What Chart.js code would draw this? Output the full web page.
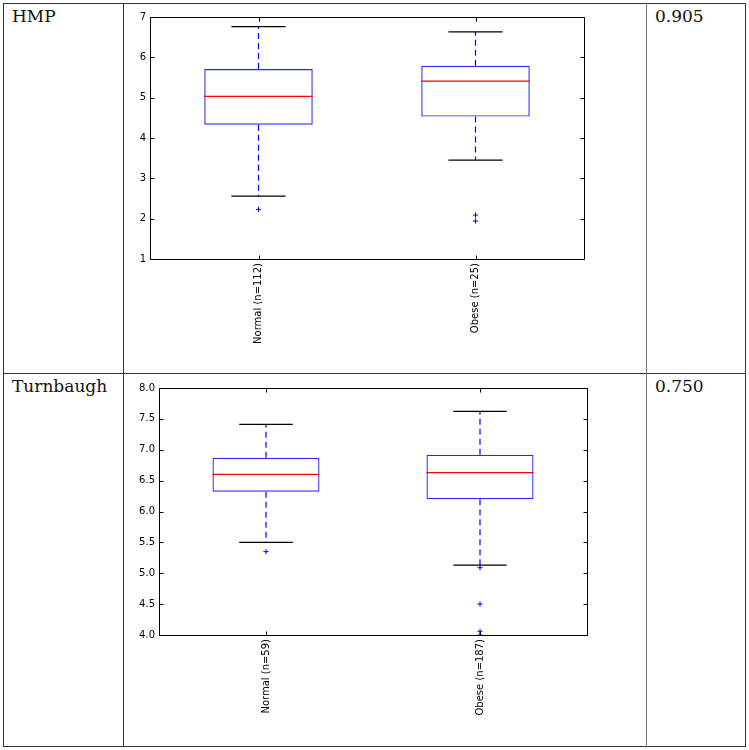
<!DOCTYPE html>
<html>
<head>
<meta charset="utf-8">
<script src="https://cdn.jsdelivr.net/npm/chart.js@4/dist/chart.umd.min.js"></script>
<style>
  html, body { margin: 0; padding: 0; background: #fff; }
  #page { position: relative; width: 749px; height: 750px; overflow: hidden; }
  .ln { position: absolute; background: #333; }
  .cell { position: absolute; font-family: "DejaVu Serif", "Liberation Serif", serif; font-size: 17px; line-height: 18px; color: #111; }
  .cv { position: absolute; }
</style>
</head>
<body>
<div id="page">
  <div class="ln" style="left:3px;top:3px;width:743px;height:1px;"></div>
  <div class="ln" style="left:3px;top:746px;width:743px;height:1px;"></div>
  <div class="ln" style="left:3px;top:3px;width:1px;height:744px;"></div>
  <div class="ln" style="left:745px;top:3px;width:1px;height:744px;"></div>
  <div class="ln" style="left:3px;top:373px;width:743px;height:1px;"></div>
  <div class="ln" style="left:123px;top:3px;width:1px;height:744px;"></div>
  <div class="ln" style="left:646px;top:3px;width:1px;height:744px;background:#777;"></div>

  <div class="cell" id="lab1" style="left:12px;top:7px;"></div>
  <div class="cell" id="val1" style="left:655px;top:7px;"></div>
  <div class="cell" id="lab2" style="left:12px;top:377px;"></div>
  <div class="cell" id="val2" style="left:655px;top:377px;"></div>

  <div class="cv" style="left:124px;top:4px;width:521px;height:369px;"><canvas id="c1" width="521" height="369"></canvas></div>
  <div class="cv" style="left:124px;top:374px;width:521px;height:371px;"><canvas id="c2" width="521" height="371"></canvas></div>
</div>
<script>
// ---------- Data ----------
const rowLabels = ['HMP', 'Turnbaugh'];
const rowValues = ['0.905', '0.750'];

const hmpCategories = ['Normal (n=112)', 'Obese (n=25)'];
const hmpWhiskerLow = [2.56, 3.45];
const hmpQ1 = [4.33, 4.53];
const hmpMedian = [5.03, 5.41];
const hmpQ3 = [5.71, 5.79];
const hmpWhiskerHigh = [6.76, 6.63];
const hmpOutliers = [[2.23], [2.09, 1.94]];
const hmpYMin = 1, hmpYMax = 7, hmpYStep = 1;

const turnCategories = ['Normal (n=59)', 'Obese (n=187)'];
const turnWhiskerLow = [5.50, 5.13];
const turnQ1 = [6.32, 6.20];
const turnMedian = [6.60, 6.63];
const turnQ3 = [6.87, 6.92];
const turnWhiskerHigh = [7.41, 7.62];
const turnOutliers = [[5.35], [5.09, 4.50, 4.06, 4.00]];
const turnYMin = 4, turnYMax = 8, turnYStep = 0.5;

document.getElementById('lab1').textContent = rowLabels[0];
document.getElementById('lab2').textContent = rowLabels[1];
document.getElementById('val1').textContent = rowValues[0];
document.getElementById('val2').textContent = rowValues[1];

const BLUE = 'rgb(0,0,255)';
const BOXBLUE = 'rgb(40,40,255)';
const RED = 'rgb(255,0,0)';
const BLACK = 'rgb(0,0,0)';

function seg(ctx, color, dash, width, x1, y1, x2, y2) {
  ctx.save();
  ctx.globalAlpha = 1;
  ctx.lineWidth = width;
  ctx.strokeStyle = color;
  ctx.setLineDash(dash);
  ctx.beginPath();
  ctx.moveTo(x1, y1);
  ctx.lineTo(x2, y2);
  ctx.stroke();
  ctx.restore();
}

function makeBox(canvasId, cats, low, q1, med, q3, high, outl, ymin, ymax, ystep, pad, yWidth, xHeight, decimals) {
  const outPts = [];
  outl.forEach((arr, i) => arr.forEach(v => outPts.push({ x: cats[i], y: v })));
  const partsPlugin = {
    id: 'parts_' + canvasId,
    afterDatasetsDraw(chart) {
      const xs = chart.scales.x, ys = chart.scales.y;
      const meta = chart.getDatasetMeta(0);
      const ctx = chart.ctx;
      for (let i = 0; i < cats.length; i++) {
        const bw = meta.data[i].width;
        const cx = xs.getPixelForValue(i);
        const half = bw / 2, capHalf = bw / 4;
        const yq1 = ys.getPixelForValue(q1[i]);
        const yq3 = ys.getPixelForValue(q3[i]);
        const ylo = ys.getPixelForValue(low[i]);
        const yhi = ys.getPixelForValue(high[i]);
        const ym = ys.getPixelForValue(med[i]);
        seg(ctx, BLUE, [6, 4], 1.2, cx, yq3, cx, yhi);
        seg(ctx, BLUE, [6, 4], 1.2, cx, yq1, cx, ylo);
        seg(ctx, BLACK, [], 1.3, cx - capHalf, yhi, cx + capHalf, yhi);
        seg(ctx, BLACK, [], 1.3, cx - capHalf, ylo, cx + capHalf, ylo);
        seg(ctx, RED, [], 1.3, cx - half, ym, cx + half, ym);
      }
      const a = chart.chartArea;
      const L = Math.round(a.left) + 0.5, R = Math.round(a.right) + 0.5;
      const T = Math.round(a.top) + 0.5, B = Math.round(a.bottom) + 0.5;
      seg(ctx, BLACK, [], 1, L, T, R, T);
      seg(ctx, BLACK, [], 1, L, B, R, B);
      seg(ctx, BLACK, [], 1, L, T, L, B);
      seg(ctx, BLACK, [], 1, R, T, R, B);
      ys.ticks.forEach(t => {
        const y = Math.round(ys.getPixelForValue(t.value)) + 0.5;
        seg(ctx, BLACK, [], 1, L, y, L + 4, y);
        seg(ctx, BLACK, [], 1, R, y, R - 4, y);
      });
      xs.ticks.forEach((t, i) => {
        const x = Math.round(xs.getPixelForValue(i)) + 0.5;
        seg(ctx, BLACK, [], 1, x, B, x, B - 4);
        seg(ctx, BLACK, [], 1, x, T, x, T + 4);
      });
    }
  };
  return new Chart(document.getElementById(canvasId), {
    type: 'bar',
    data: {
      labels: cats,
      datasets: [
        {
          data: q1.map((v, i) => [v, q3[i]]),
          backgroundColor: 'rgba(0,0,0,0)',
          borderColor: BOXBLUE,
          borderWidth: 1.2,
          borderSkipped: false,
          barPercentage: 0.5,
          categoryPercentage: 1.0
        },
        {
          type: 'line',
          data: outPts,
          showLine: false,
          pointStyle: 'cross',
          pointRadius: 2.6,
          pointHoverRadius: 2.6,
          pointBorderColor: BLUE,
          pointBackgroundColor: BLUE,
          pointBorderWidth: 1,
          borderColor: BLUE
        }
      ]
    },
    options: {
      responsive: false,
      animation: false,
      events: [],
      layout: { padding: pad },
      plugins: {
        legend: { display: false },
        tooltip: { enabled: false }
      },
      scales: {
        x: {
          grid: { display: false, drawTicks: false },
          border: { display: false },
          ticks: {
            minRotation: 90, maxRotation: 90, padding: 4,
            color: '#000',
            font: { family: 'DejaVu Sans', size: 10 }
          },
          afterFit(s) { s.height = xHeight; }
        },
        y: {
          min: ymin, max: ymax,
          grid: { display: false, drawTicks: false },
          border: { display: false },
          ticks: {
            stepSize: ystep, padding: 4, color: '#000',
            font: { family: 'DejaVu Sans', size: 10 },
            callback: v => Number(v).toFixed(decimals)
          },
          afterFit(s) { s.width = yWidth; }
        }
      }
    },
    plugins: [partsPlugin]
  });
}

makeBox('c1', hmpCategories, hmpWhiskerLow, hmpQ1, hmpMedian, hmpQ3, hmpWhiskerHigh, hmpOutliers,
  hmpYMin, hmpYMax, hmpYStep, { top: 13, right: 61, left: 0, bottom: 0 }, 26, 114, 0);
makeBox('c2', turnCategories, turnWhiskerLow, turnQ1, turnMedian, turnQ3, turnWhiskerHigh, turnOutliers,
  turnYMin, turnYMax, turnYStep, { top: 14, right: 58, left: 0, bottom: 0 }, 35, 110, 1);
</script>
</body>
</html>
